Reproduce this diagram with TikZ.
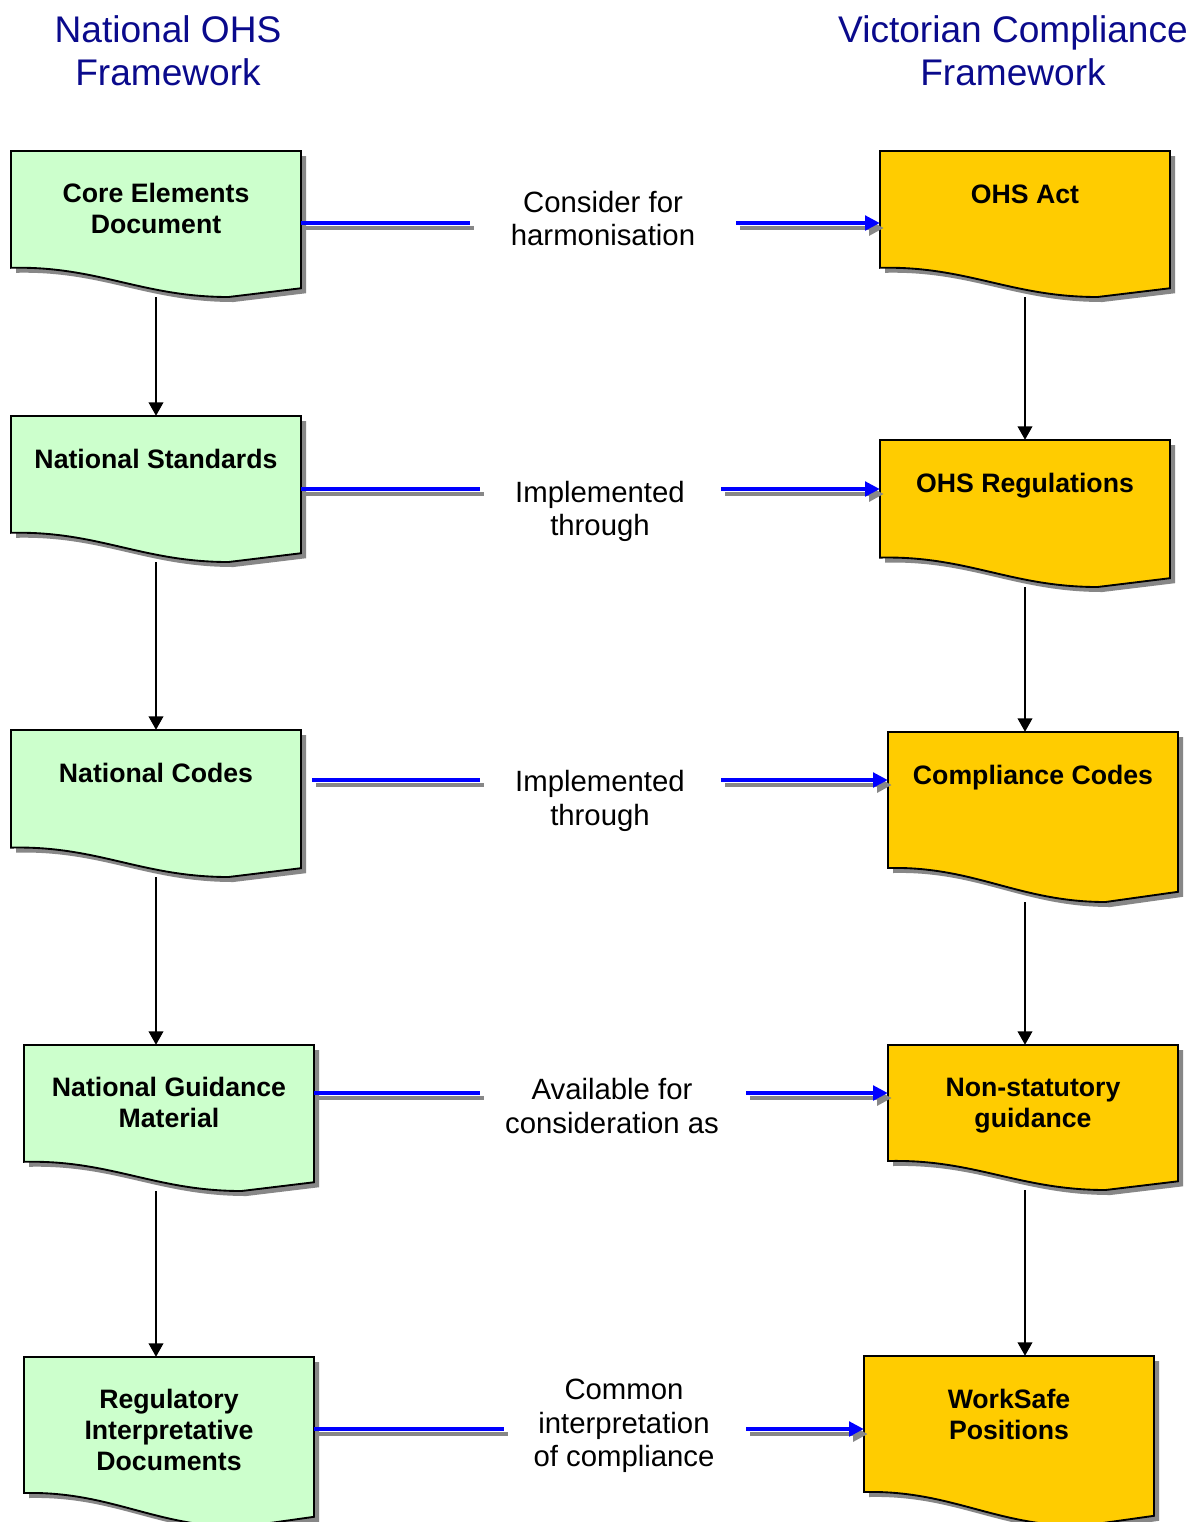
\documentclass[tikz,border=0pt]{standalone}
\usepackage{fontspec}
\setmainfont{Liberation Sans}
\usetikzlibrary{arrows.meta,fit,calc}
\definecolor{greenfill}{HTML}{CCFFCC}
\definecolor{goldfill}{HTML}{FFCC00}
\definecolor{titleblue}{HTML}{0A0A8C}
\definecolor{shadgray}{HTML}{878787}
\definecolor{lineblue}{HTML}{0000FF}
\tikzset{
  boxtext/.style={font=\bfseries\fontsize{20}{23}\selectfont, align=center, inner sep=0pt},
  labeltext/.style={font=\fontsize{22}{25.3}\selectfont, align=center, inner sep=0pt},
  titletext/.style={font=\fontsize{27.8}{32}\selectfont, align=center, text=titleblue, inner sep=0pt},
  vconn/.style={line width=1.1pt, -{Triangle[length=10pt,width=11pt]}},
  hline/.style={draw=lineblue, line width=2.3pt},
  hshadow/.style={draw=shadgray, line width=2.8pt, transform canvas={shift={(4,5)}}},
  harrow/.style={hline, -{Triangle[length=11pt,width=11pt]}},
  harrowshadow/.style={hshadow, -{Triangle[length=11pt,width=11pt]}},
}
% #1 name, #2 x0, #3 top, #4 x1, #5 total height, #6 fill
\newcommand\docbox[6]{%
  \fill[shadgray, shift={(5,5)}] (#2,#3) -- (#4,#3) -- (#4,{#3+0.94*#5})
     -- ({#2+0.75*(#4-#2)},{#3+#5})
     .. controls ({#2+0.45*(#4-#2)},{#3+#5}) and ({#2+0.3*(#4-#2)},{#3+0.8*#5-2}) .. (#2,{#3+0.8*#5}) -- cycle;
  \filldraw[fill=#6, draw=black, line width=1.4pt, line join=miter] (#2,#3) -- (#4,#3) -- (#4,{#3+0.94*#5})
     -- ({#2+0.75*(#4-#2)},{#3+#5})
     .. controls ({#2+0.45*(#4-#2)},{#3+#5}) and ({#2+0.3*(#4-#2)},{#3+0.8*#5-2}) .. (#2,{#3+0.8*#5}) -- cycle;
  \node[fit={(#2,#3) (#4,{#3+#5})}, inner sep=0pt] (#1) {};
}
\begin{document}
\begin{tikzpicture}[x=0.75pt, y=-0.75pt]
\useasboundingbox (0,0) rectangle (1201,1522);
\clip (0,0) rectangle (1201,1522);
\fill[white] (0,0) rectangle (1201,1522);

% titles
\node[titletext] (tl) at (168,50.5) {National OHS\\Framework};
\node[titletext] (tr) at (1013,50.5) {Victorian Compliance\\Framework};

% left column
\docbox{ced}{11}{151}{301}{146}{greenfill}
\docbox{nst}{11}{416}{301}{146}{greenfill}
\docbox{nco}{11}{730}{301}{147}{greenfill}
\docbox{ngm}{24}{1045}{314}{146}{greenfill}
\docbox{rid}{24}{1357}{314}{170}{greenfill}
% right column
\docbox{act}{880}{151}{1170}{146}{goldfill}
\docbox{reg}{880}{440}{1170}{147}{goldfill}
\docbox{ccd}{888}{732}{1178}{170}{goldfill}
\docbox{nsg}{888}{1045}{1178}{145}{goldfill}
\docbox{wsp}{864}{1356}{1154}{170}{goldfill}

% box texts
\node[boxtext] (cedT) at (156,208.5) {Core Elements\\Document};
\node[boxtext] (nstT) at (156,459) {National Standards};
\node[boxtext] (ncoT) at (156,773) {National Codes};
\node[boxtext] (ngmT) at (169,1102.5) {National Guidance\\Material};
\node[boxtext] (ridT) at (169,1430) {Regulatory\\Interpretative\\Documents};
\node[boxtext] (actT) at (1025,194) {OHS Act};
\node[boxtext] (regT) at (1025,486) {OHS Regulations};
\node[boxtext] (ccdT) at (1033,778) {Compliance Codes};
\node[boxtext] (nsgT) at (1033,1105.5) {Non-statutory\\guidance};
\node[boxtext] (wspT) at (1009,1414.5) {WorkSafe\\Positions};

% vertical connectors
\coordinate (lx) at (156,0);
\coordinate (rx) at (1025,0);
\draw[vconn] (lx |- ced.south) -- (lx |- nst.north);
\draw[vconn] (lx |- nst.south) -- (lx |- nco.north);
\draw[vconn] (lx |- nco.south) -- (lx |- ngm.north);
\draw[vconn] (lx |- ngm.south) -- (lx |- rid.north);
\draw[vconn] (rx |- act.south) -- (rx |- reg.north);
\draw[vconn] (rx |- reg.south) -- (rx |- ccd.north);
\draw[vconn] (rx |- ccd.south) -- (rx |- nsg.north);
\draw[vconn] (rx |- nsg.south) -- (rx |- wsp.north);

% labels
\node[labeltext] (l1) at (603,218.5) {Consider for\\harmonisation};
\node[labeltext] (l2) at (600,511.5) {Implemented\\through};
\node[labeltext] (l3) at (600,801) {Implemented\\through};
\node[labeltext] (l4) at (612,1106) {Available for\\consideration as};
\node[labeltext] (l5) at (624,1426) {Common\\interpretation\\of compliance};

% gap ends of the horizontal connectors
\coordinate (g1a) at (470,223);  \coordinate (g1b) at (736,223);
\coordinate (g2a) at (480,489);  \coordinate (g2b) at (721,489);
\coordinate (g3s) at (312,780);  \coordinate (g3a) at (480,780);  \coordinate (g3b) at (721,780);
\coordinate (g4a) at (480,1093); \coordinate (g4b) at (746,1093);
\coordinate (g5a) at (504,1429); \coordinate (g5b) at (746,1429);

% shadows
\draw[hshadow] (ced.east |- g1a) -- (g1a);
\draw[harrowshadow] (g1b) -- (act.west |- g1b);
\draw[hshadow] (nst.east |- g2a) -- (g2a);
\draw[harrowshadow] (g2b) -- (reg.west |- g2b);
\draw[hshadow] (g3s) -- (g3a);
\draw[harrowshadow] (g3b) -- (ccd.west |- g3b);
\draw[hshadow] (ngm.east |- g4a) -- (g4a);
\draw[harrowshadow] (g4b) -- (nsg.west |- g4b);
\draw[hshadow] (rid.east |- g5a) -- (g5a);
\draw[harrowshadow] (g5b) -- (wsp.west |- g5b);
% blue lines
\draw[hline] (ced.east |- g1a) -- (g1a);
\draw[harrow] (g1b) -- (act.west |- g1b);
\draw[hline] (nst.east |- g2a) -- (g2a);
\draw[harrow] (g2b) -- (reg.west |- g2b);
\draw[hline] (g3s) -- (g3a);
\draw[harrow] (g3b) -- (ccd.west |- g3b);
\draw[hline] (ngm.east |- g4a) -- (g4a);
\draw[harrow] (g4b) -- (nsg.west |- g4b);
\draw[hline] (rid.east |- g5a) -- (g5a);
\draw[harrow] (g5b) -- (wsp.west |- g5b);
\end{tikzpicture}
\end{document}
